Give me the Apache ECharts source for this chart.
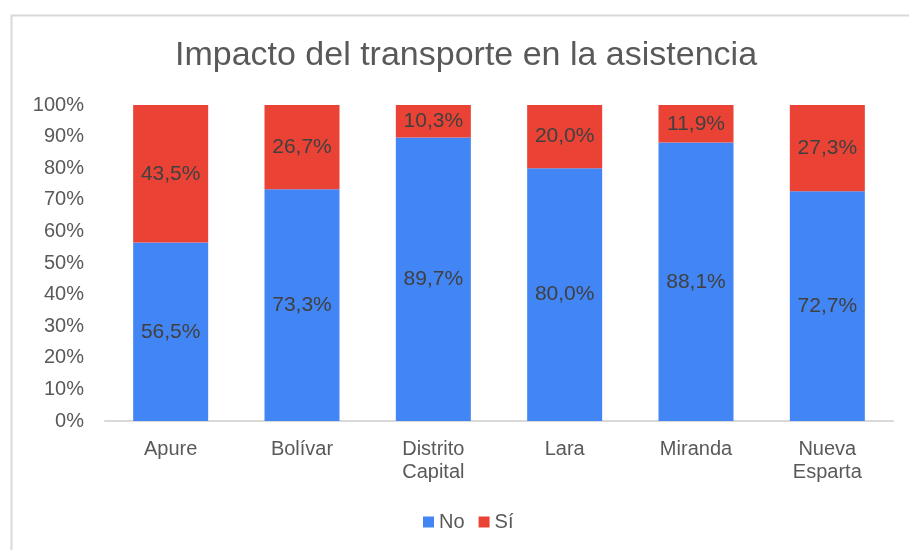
<!DOCTYPE html>
<html>
<head>
<meta charset="utf-8">
<script src="https://cdn.jsdelivr.net/npm/echarts@6/dist/echarts.min.js"></script>
<style>
  html, body { margin: 0; padding: 0; background: #fff; }
  #chart { width: 909px; height: 550px; }
</style>
</head>
<body>
<div id="chart"></div>
<script>
// datos
const regiones = ['Apure', 'Bolívar', 'Distrito\nCapital', 'Lara', 'Miranda', 'Nueva\nEsparta']
const valoresNo = [56.5, 73.3, 89.7, 80.0, 88.1, 72.7]
const valoresSi = [43.5, 26.7, 10.3, 20.0, 11.9, 27.3]

const fuente = '"Liberation Sans", Arial, sans-serif'
const gris = '#595959'

const chart = echarts.init(document.getElementById('chart'))

const etiqueta = {
  show: true,
  position: 'inside',
  color: '#404040',
  fontSize: 21,
  fontFamily: fuente,
  formatter: (p) => p.value.toFixed(1).replace('.', ',') + '%'
}

const option = {
  animation: false,
  backgroundColor: '#fff',
  graphic: [{
    type: 'rect',
    left: 9,
    top: 13,
    shape: { width: 960, height: 600 },
    style: { fill: 'none', stroke: '#d9d9d9', lineWidth: 2 },
    silent: true
  }],
  title: {
    text: 'Impacto del transporte en la asistencia',
    left: 461,
    textAlign: 'center',
    top: 34,
    textStyle: { color: gris, fontSize: 34, fontWeight: 'normal', fontFamily: fuente }
  },
  legend: {
    data: ['No', 'Sí'],
    bottom: 13,
    left: 418,
    itemWidth: 11,
    itemHeight: 11,
    itemGap: 14,
    icon: 'rect',
    textStyle: { color: gris, fontSize: 20, fontFamily: fuente }
  },
  grid: {
    left: 105,
    right: 16,
    top: 105,
    bottom: 129
  },
  xAxis: {
    type: 'category',
    data: regiones,
    axisLine: { lineStyle: { color: '#d9d9d9', width: 2 } },
    axisTick: { show: false },
    axisLabel: { color: gris, fontSize: 20, fontFamily: fuente, margin: 17, lineHeight: 23 }
  },
  yAxis: {
    type: 'value',
    min: 0,
    max: 100,
    interval: 10,
    splitLine: { show: false },
    axisLine: { show: false },
    axisTick: { show: false },
    axisLabel: {
      color: gris, fontSize: 20, fontFamily: fuente, margin: 21,
      formatter: (v) => v + '%'
    }
  },
  series: [
    {
      name: 'No',
      type: 'bar',
      stack: 'total',
      barWidth: 75,
      data: valoresNo,
      itemStyle: { color: '#4285f4' },
      label: etiqueta
    },
    {
      name: 'Sí',
      type: 'bar',
      stack: 'total',
      barWidth: 75,
      data: valoresSi,
      itemStyle: { color: '#ea4335' },
      label: etiqueta
    }
  ]
}

chart.setOption(option)
</script>
</body>
</html>
